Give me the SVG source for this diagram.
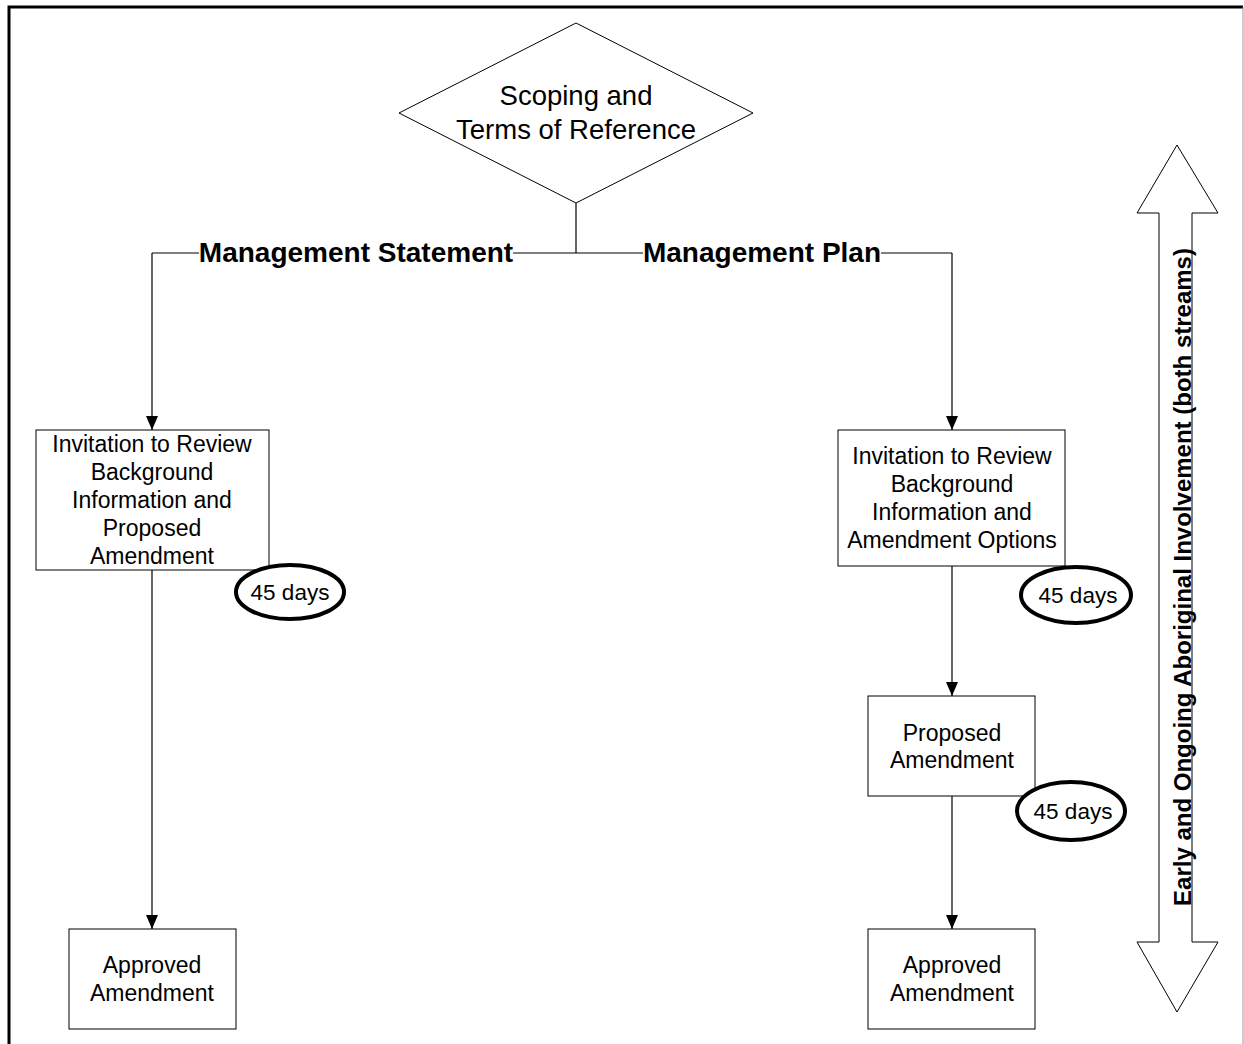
<svg xmlns="http://www.w3.org/2000/svg" width="1244" height="1044" viewBox="0 0 1244 1044">
<defs>
<style>
text{font-family:"Liberation Sans",Arial,sans-serif;fill:#000}
.box{fill:#fff;stroke:#000;stroke-width:1}
.t{font-size:23px;text-anchor:middle}
.d{font-size:27.5px;text-anchor:middle}
.lbl{font-size:28px;font-weight:bold;text-anchor:middle}
.days{font-size:22.5px;text-anchor:middle}
.ell{fill:#fff;stroke:#000;stroke-width:4}
.con{fill:none;stroke:#000;stroke-width:1.2}
</style>
<marker id="arr" viewBox="0 0 14 12" refX="14" refY="6" markerWidth="14" markerHeight="12" markerUnits="userSpaceOnUse" orient="auto">
<path d="M0,0 L14,6 L0,12 Z" fill="#000"/>
</marker>
</defs>
<rect width="1244" height="1044" fill="#fff"/>
<path d="M9,1044 V7 H1243" fill="none" stroke="#000" stroke-width="3"/>
<line x1="1243" y1="7" x2="1243" y2="1044" stroke="#999" stroke-width="1"/>

<g id="connectors">
<path class="con" d="M576,203 V253"/>
<path class="con" d="M576,253 H513"/>
<line class="con" x1="199" y1="253" x2="152" y2="253"/>
<line class="con" x1="152" y1="253" x2="152" y2="430" marker-end="url(#arr)"/>
<path class="con" d="M576,253 H643"/>
<line class="con" x1="881" y1="253" x2="952" y2="253"/>
<line class="con" x1="952" y1="253" x2="952" y2="430" marker-end="url(#arr)"/>
<line class="con" x1="152" y1="570" x2="152" y2="929" marker-end="url(#arr)"/>
<line class="con" x1="952" y1="566" x2="952" y2="696" marker-end="url(#arr)"/>
<line class="con" x1="952" y1="796" x2="952" y2="929" marker-end="url(#arr)"/>
<text class="lbl" x="356" y="262">Management Statement</text>
<text class="lbl" x="762" y="262">Management Plan</text>
</g>

<g id="scoping">
<polygon class="box" points="576,23 753,113 576,203 399,113"/>
<text class="d" x="576" y="105">Scoping and</text>
<text class="d" x="576" y="139">Terms of Reference</text>
</g>

<g id="invite-left">
<rect class="box" x="36" y="430" width="233" height="140"/>
<text class="t" x="152" y="452">Invitation to Review</text>
<text class="t" x="152" y="480">Background</text>
<text class="t" x="152" y="508">Information and</text>
<text class="t" x="152" y="536">Proposed</text>
<text class="t" x="152" y="564">Amendment</text>
</g>
<g id="days-left">
<ellipse class="ell" cx="290" cy="592" rx="54" ry="27"/>
<text class="days" x="290" y="600">45 days</text>
</g>

<g id="approved-left">
<rect class="box" x="69" y="929" width="167" height="100"/>
<text class="t" x="152" y="973">Approved</text>
<text class="t" x="152" y="1001">Amendment</text>
</g>

<g id="invite-right">
<rect class="box" x="838" y="430" width="227" height="136"/>
<text class="t" x="952" y="464">Invitation to Review</text>
<text class="t" x="952" y="492">Background</text>
<text class="t" x="952" y="520">Information and</text>
<text class="t" x="952" y="548">Amendment Options</text>
</g>
<g id="days-right1">
<ellipse class="ell" cx="1076" cy="595" rx="55" ry="28"/>
<text class="days" x="1078" y="603">45 days</text>
</g>

<g id="proposed">
<rect class="box" x="868" y="696" width="167" height="100"/>
<text class="t" x="952" y="741">Proposed</text>
<text class="t" x="952" y="768">Amendment</text>
</g>
<g id="days-right2">
<ellipse class="ell" cx="1071" cy="811" rx="54" ry="29"/>
<text class="days" x="1073" y="819">45 days</text>
</g>

<g id="approved-right">
<rect class="box" x="868" y="929" width="167" height="100"/>
<text class="t" x="952" y="973">Approved</text>
<text class="t" x="952" y="1001">Amendment</text>
</g>

<g id="involvement">
<path class="box" d="M1177,145 L1218,213 L1192,213 L1192,942 L1218,942 L1177,1012 L1137,942 L1159,942 L1159,213 L1137,213 Z"/>
<text transform="translate(1191,577) rotate(-90)" style="font-size:24px;font-weight:bold;text-anchor:middle">Early and Ongoing Aboriginal Involvement (both streams)</text>
</g>
</svg>
